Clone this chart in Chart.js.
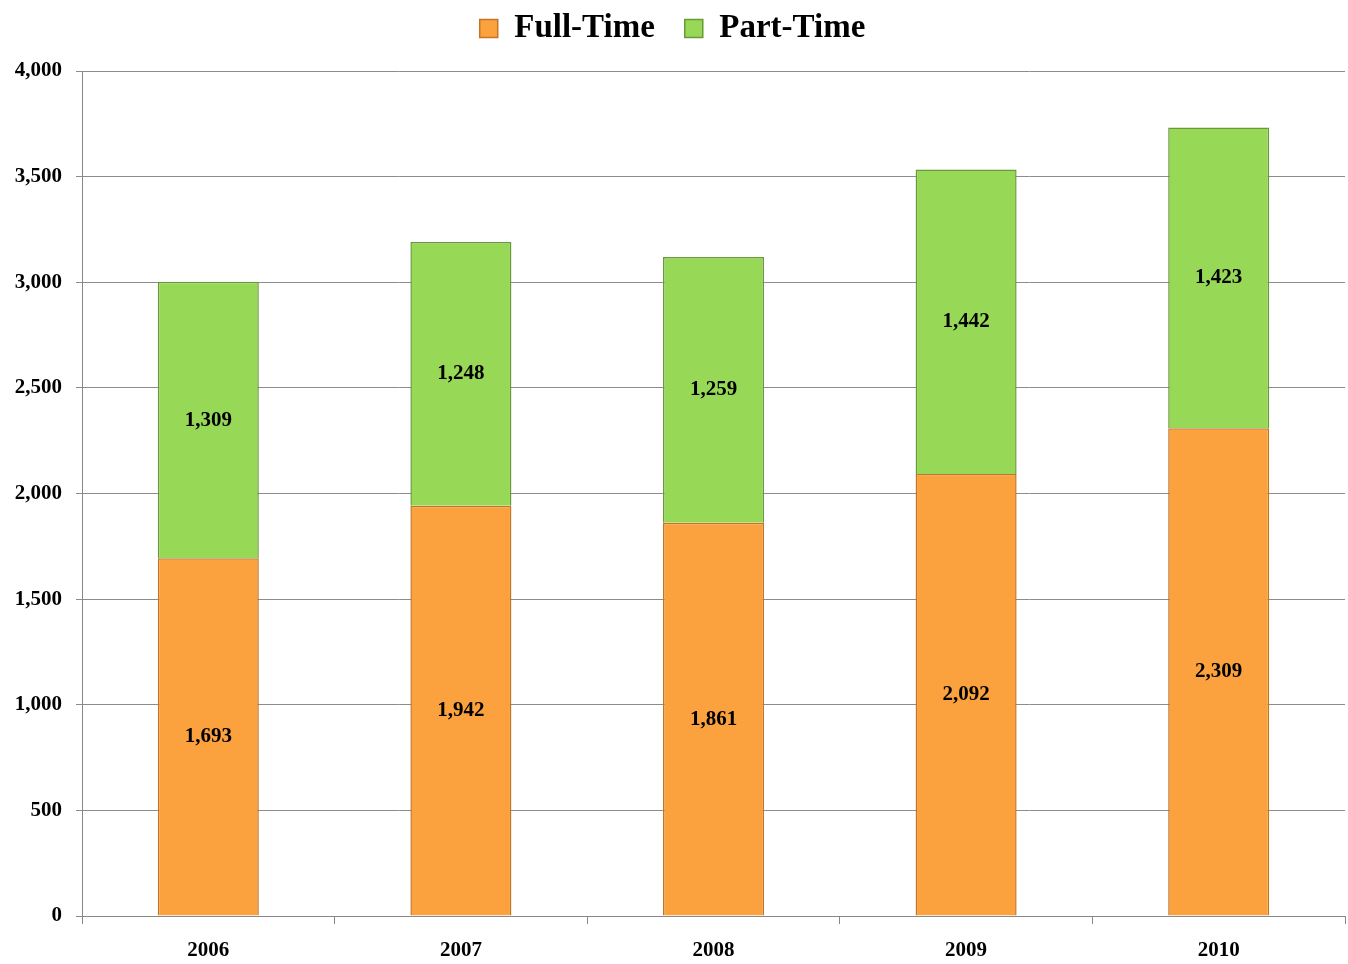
<!DOCTYPE html>
<html>
<head>
<meta charset="utf-8">
<script src="https://cdn.jsdelivr.net/npm/chart.js@4/dist/chart.umd.min.js"></script>
<style>
  html, body { margin: 0; padding: 0; background: #fff; }
  #wrap { width: 1348px; height: 964px; }
</style>
</head>
<body>
<div id="wrap"><canvas id="chart" width="1348" height="964"></canvas></div>
<script>
// data
const years = ["2006", "2007", "2008", "2009", "2010"];
const fullTime = [1693, 1942, 1861, 2092, 2309];
const partTime = [1309, 1248, 1259, 1442, 1423];
const yTicks = [0, 500, 1000, 1500, 2000, 2500, 3000, 3500, 4000];

const serif = "'Liberation Serif', 'Times New Roman', serif";

// write the value in the middle of each segment
const segmentLabels = {
  id: "segmentLabels",
  afterDatasetsDraw(chart) {
    const ctx = chart.ctx;
    ctx.save();
    ctx.font = "bold 21px " + serif;
    ctx.fillStyle = "#000";
    ctx.textAlign = "center";
    ctx.textBaseline = "middle";
    chart.data.datasets.forEach((ds, i) => {
      chart.getDatasetMeta(i).data.forEach((bar, j) => {
        const v = ds.data[j];
        ctx.fillText(v.toLocaleString("en-US"), bar.x, (bar.y + bar.base) / 2);
      });
    });
    ctx.restore();
  }
};

// leave more room under the legend
const legendGap = {
  id: "legendGap",
  beforeLayout(chart) {
    const lg = chart.legend;
    if (lg && !lg._gapPatched) {
      const fit = lg.fit;
      lg.fit = function () { fit.call(this); this.height += 16; };
      lg._gapPatched = true;
    }
  }
};

new Chart(document.getElementById("chart"), {
  type: "bar",
  data: {
    labels: years,
    datasets: [
      {
        label: "Full-Time",
        data: fullTime,
        backgroundColor: "#FBA23E",
        borderColor: "#C27524",
        borderWidth: 1.5
      },
      {
        label: "Part-Time",
        data: partTime,
        backgroundColor: "#97D957",
        borderColor: "#6A983A",
        borderWidth: 1.5
      }
    ]
  },
  options: {
    responsive: false,
    animation: false,
    datasets: {
      bar: { categoryPercentage: 1, barPercentage: 0.4 }
    },
    layout: { padding: { left: 0, right: 3, top: -18, bottom: 0 } },
    plugins: {
      legend: {
        position: "top",
        labels: {
          font: { family: serif, size: 33, weight: "bold" },
          color: "#000",
          boxWidth: 18,
          boxHeight: 18,
          padding: 30
        }
      },
      tooltip: { enabled: false }
    },
    scales: {
      x: {
        stacked: true,
        offset: true,
        grid: {
          offset: true,
          drawOnChartArea: false,
          drawTicks: true,
          tickLength: 8,
          color: "#888"
        },
        border: { color: "#888" },
        ticks: {
          font: { family: serif, size: 21, weight: "bold" },
          color: "#000",
          padding: 14
        },
        afterFit(scale) { scale.height = 48; }
      },
      y: {
        stacked: true,
        min: 0,
        max: 4000,
        afterBuildTicks(scale) { scale.ticks = yTicks.map(v => ({ value: v })); },
        grid: { color: "#8c8c8c", tickLength: 6 },
        border: { color: "#888" },
        ticks: {
          font: { family: serif, size: 21, weight: "bold" },
          color: "#000",
          padding: 14,
          callback: v => v.toLocaleString("en-US")
        },
        afterFit(scale) { scale.width = 82; }
      }
    }
  },
  plugins: [legendGap, segmentLabels]
});
</script>
</body>
</html>
